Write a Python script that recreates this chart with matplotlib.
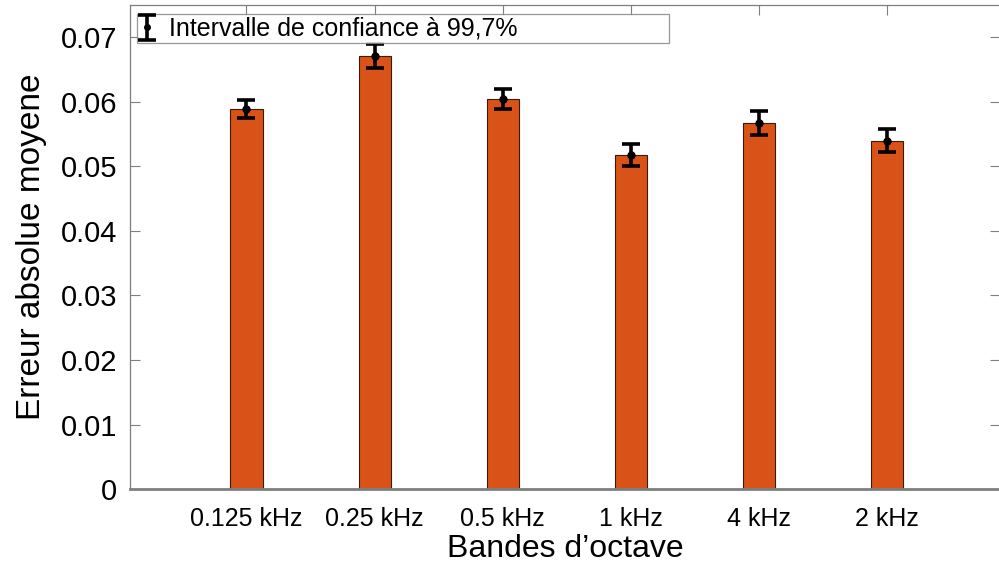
import matplotlib
matplotlib.use('Agg')
import matplotlib.pyplot as plt
import numpy as np

plt.rcParams['font.family'] = ['Liberation Sans', 'DejaVu Sans']

bands = ['0.125 kHz', '0.25 kHz', '0.5 kHz', '1 kHz', '4 kHz', '2 kHz']
mae = [0.0589, 0.0671, 0.0605, 0.0517, 0.0567, 0.0540]
ci = [0.00147, 0.0018, 0.00155, 0.0017, 0.0019, 0.0018]

barColor = '#D95319'
axisColor = '#7f7f7f'

fig = plt.figure(figsize=(9.99, 5.68), dpi=100)
ax = fig.add_axes([0.130, 0.139, 0.871, 0.852])

x = np.arange(1, len(bands) + 1)
ax.bar(x, mae, width=0.25, color=barColor, edgecolor='#3a1a08', linewidth=0.8, zorder=2)
ax.errorbar(x, mae, yerr=ci, fmt='o', color='black', markersize=5,
            elinewidth=2.6, capsize=6.5, capthick=2.6, zorder=3,
            label='Intervalle de confiance à 99,7%')

ax.set_xlim(0.09, 6.88)
ax.set_ylim(0, 0.075)
ax.set_xticks(x)
ax.set_xticklabels(bands, fontsize=18)
ax.set_yticks(np.arange(0, 0.071, 0.01))
ax.set_yticklabels(['0'] + ['%.2f' % v for v in np.arange(0.01, 0.071, 0.01)], fontsize=21)
ax.tick_params(axis='both', direction='in', length=7, color=axisColor, width=0.8,
               top=True, right=True)
ax.tick_params(axis='x', pad=13)
ax.tick_params(axis='y', pad=9)

for side in ['left', 'top', 'right']:
    ax.spines[side].set_color(axisColor)
    ax.spines[side].set_linewidth(0.9)
ax.spines['bottom'].set_color(axisColor)
ax.spines['bottom'].set_linewidth(2.0)

ax.set_xlabel("Bandes d\u2019octave", fontsize=23, labelpad=2)
ax.set_ylabel('Erreur absolue moyene', fontsize=24, labelpad=10)

leg = ax.legend(loc='upper left', bbox_to_anchor=(0.008, 0.915, 0.612, 0.066),
                mode='expand', borderaxespad=0, fontsize=18, frameon=True,
                fancybox=False, edgecolor=axisColor, handlelength=0.6,
                handletextpad=0.6, borderpad=0.1, markerscale=0.8)
leg.get_frame().set_linewidth(0.9)

fig.savefig('out.png', dpi=100)
